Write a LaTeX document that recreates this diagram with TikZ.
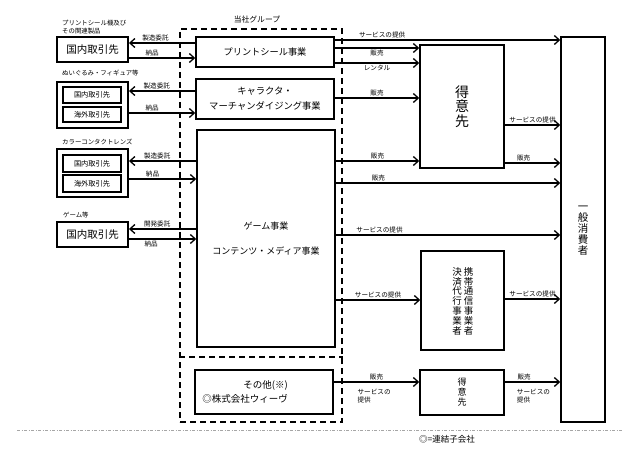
\documentclass[tikz,border=0pt]{standalone}
\usepackage{fontspec}
\setmainfont{Noto Sans CJK JP}
\usetikzlibrary{arrows.meta}
\newcommand\fsz[2]{\fontsize{#1}{#2}\selectfont}
\tikzset{
  box/.style={draw, line width=1.5pt, inner sep=0pt, align=center},
  obox/.style={draw, line width=1.9pt, inner sep=0pt, align=center},
  ibox/.style={draw, line width=1.5pt, inner sep=0pt, align=center, font=\fsz{7.2}{8}},
  grp/.style={draw, line width=1.5pt, dash pattern=on 6pt off 4pt, inner sep=0pt},
  arr/.style={line width=1.3pt, -{Straight Barb[length=5pt,width=9pt]}},
  lbl/.style={font=\fsz{6.6}{8.5}, inner sep=1pt},
  toplbl/.style={font=\fsz{6.4}{7.6}, inner sep=0pt, align=left, anchor=north west},
}
\begin{document}
\begin{tikzpicture}[x=1pt,y=-1pt]
\path[use as bounding box, fill=white] (0,0) rectangle (624,468);

% group
\node[grp, minimum width=162, minimum height=393] (grp) at (261,225.5) {};
\draw[line width=1.5pt, dash pattern=on 6pt off 4pt] (grp.west |- 0,357) -- (grp.east |- 0,357);
\node[font=\fsz{7.8}{9}] (grplbl) at (257,20) {当社グループ};

% left boxes
\node[toplbl] (l1) at (62,20) {プリントシール機及び\\その関連製品};
\node[obox, minimum width=71, minimum height=25, font=\fsz{10.5}{12}] (b1) at (92.5,49.5) {国内取引先};

\node[toplbl] (l2) at (62,69.5) {ぬいぐるみ・フィギュア等};
\node[obox, minimum width=71, minimum height=46] (b2) at (92.5,105) {};
\node[ibox, minimum width=58, minimum height=16] (b2a) at (92,95) {国内取引先};
\node[ibox, minimum width=58, minimum height=15] (b2b) at (92,114.5) {海外取引先};

\node[toplbl] (l3) at (62,138.5) {カラーコンタクトレンズ};
\node[obox, minimum width=71, minimum height=48] (b3) at (92.5,173) {};
\node[ibox, minimum width=58, minimum height=17] (b3a) at (92,163.5) {国内取引先};
\node[ibox, minimum width=58, minimum height=17] (b3b) at (92,183.5) {海外取引先};

\node[toplbl] (l4) at (63,211.5) {ゲーム等};
\node[obox, minimum width=71, minimum height=25, font=\fsz{10.5}{12}] (b4) at (92.5,234.5) {国内取引先};

% centre boxes
\node[box, minimum width=138, minimum height=30, font=\fsz{9.2}{11}] (c1) at (265,52) {プリントシール事業};
\node[box, minimum width=138, minimum height=40, font=\fsz{9.3}{15}] (c2) at (265,99) {キャラクタ・\\マーチャンダイジング事業};
\node[box, minimum width=138, minimum height=217, font=\fsz{9}{25}] (c3) at (266,238.5) {ゲーム事業\\コンテンツ・メディア事業};
\node[box, minimum width=138, minimum height=44] (c4) at (264,392) {};
\node[font=\fsz{9.5}{14}, align=right, inner sep=0pt] (c4t) at (245,392) {その他(※)\\◎株式会社ウィーヴ};

% right boxes
\node[box, minimum width=84, minimum height=123, font=\fsz{14}{14.5}] (t1) at (462,106.5) {得\\意\\先};
\node[box, minimum width=83, minimum height=99] (t2) at (462.5,300.5) {};
\node[font=\fsz{9.5}{9.8}, align=center, inner sep=0pt] (t2r) at (468.5,301) {携\\帯\\通\\信\\事\\業\\者};
\node[font=\fsz{9.5}{9.8}, align=center, inner sep=0pt] (t2l) at (457,301) {決\\済\\代\\行\\事\\業\\者};
\node[box, minimum width=84, minimum height=45, font=\fsz{9}{10}] (t3) at (462,392.5) {得\\意\\先};
\node[box, minimum width=44, minimum height=385] (u) at (583,229.5) {};
\node[font=\fsz{10.5}{11}, align=center, inner sep=0pt] (ut) at (583,230.5) {一\\般\\消\\費\\者};

% left arrows
\draw[arr] (c1.west |- 0,43) -- node[lbl,above,pos=0.6] {製造委託} (b1.east |- 0,43);
\draw[arr] (b1.east |- 0,58) -- node[lbl,above,pos=0.35] {納品} (c1.west |- 0,58);
\draw[arr] (c2.west |- 0,91) -- node[lbl,above,pos=0.58] {製造委託} (b2.east |- 0,91);
\draw[arr] (b2.east |- 0,113) -- node[lbl,above,pos=0.35] {納品} (c2.west |- 0,113);
\draw[arr] (c3.west |- 0,161) -- node[lbl,above,pos=0.58] {製造委託} (b3.east |- 0,161);
\draw[arr] (b3.east |- 0,179) -- node[lbl,above,pos=0.35] {納品} (c3.west |- 0,179);
\draw[arr] (c3.west |- 0,229) -- node[lbl,above,pos=0.58] {開発委託} (b4.east |- 0,229);
\draw[arr] (b4.east |- 0,239) -- node[lbl,below,pos=0.33] {納品} (c3.west |- 0,239);

% right arrows
\draw[arr] (c1.east |- 0,40) -- node[lbl,above,pos=0.21] {サービスの提供} (u.west |- 0,40);
\draw[arr] (c1.east |- 0,48) -- node[lbl,below] {販売} (t1.west |- 0,48);
\draw[arr] (c1.east |- 0,63) -- node[lbl,below] {レンタル} (t1.west |- 0,63);
\draw[arr] (c2.east |- 0,98) -- node[lbl,above] {販売} (t1.west |- 0,98);
\draw[arr] (c3.east |- 0,161) -- node[lbl,above] {販売} (t1.west |- 0,161);
\draw[arr] (c3.east |- 0,183) -- node[lbl,above,pos=0.19] {販売} (u.west |- 0,183);
\draw[arr] (c3.east |- 0,235) -- node[lbl,above,pos=0.195] {サービスの提供} (u.west |- 0,235);
\draw[arr] (c3.east |- 0,300) -- node[lbl,above] {サービスの提供} (t2.west |- 0,300);
\draw[arr] (t1.east |- 0,125) -- node[lbl,above] {サービスの提供} (u.west |- 0,125);
\draw[arr] (t1.east |- 0,163) -- node[lbl,above,pos=0.34] {販売} (u.west |- 0,163);
\draw[arr] (t2.east |- 0,299) -- node[lbl,above] {サービスの提供} (u.west |- 0,299);
\draw[arr] (c4.east |- 0,382) -- node[lbl,above] {販売}
  node[lbl,anchor=north west,align=left,pos=0.26,yshift=-5pt] {サービスの\\提供} (t3.west |- 0,382);
\draw[arr] (t3.east |- 0,382) -- node[lbl,above,pos=0.35] {販売}
  node[lbl,anchor=north west,align=left,pos=0.19,yshift=-5pt] {サービスの\\提供} (u.west |- 0,382);

% footer
\coordinate (fl) at (17,430);
\coordinate (fr) at (622,430);
\draw[gray!70, line width=0.7pt, dash pattern=on 3pt off 1.5pt on 1pt off 1.5pt] (fl) -- (fr);
\node[font=\fsz{8.5}{10}] (note) at (447,439) {◎=連結子会社};
\end{tikzpicture}
\end{document}
